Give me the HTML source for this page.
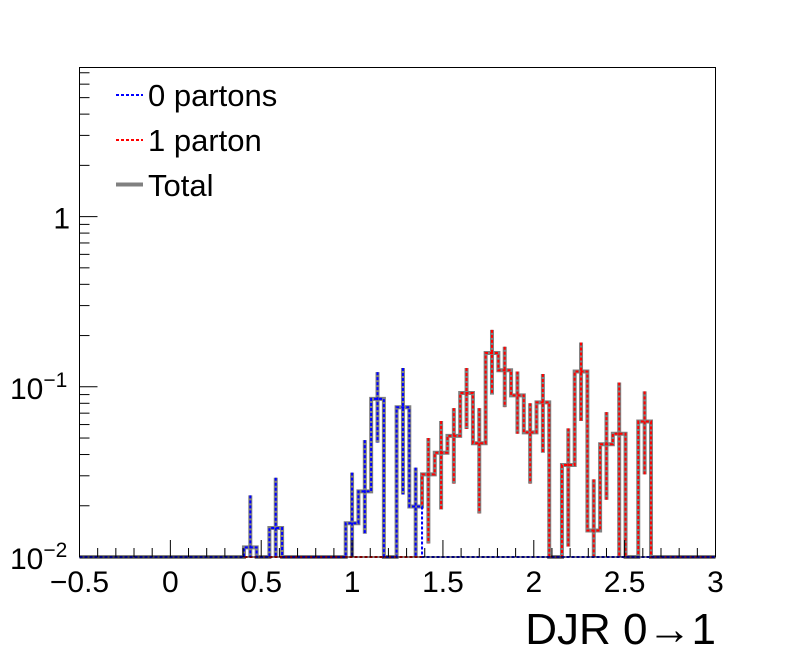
<!DOCTYPE html>
<html><head><meta charset="utf-8"><style>
html,body{margin:0;padding:0;background:#fff;}
svg{display:block;font-family:"Liberation Sans",sans-serif;}
</style></head><body>
<svg id="chart" width="796" height="672" viewBox="0 0 796 672" xmlns="http://www.w3.org/2000/svg">
<rect x="0" y="0" width="796" height="672" fill="#fff"/>
<g id="plot"></g>
<rect x="79.5" y="67.5" width="636" height="489.5" fill="none" stroke="#000" stroke-width="1"/>
<g id="axes"></g>
<text x="716" y="644" font-size="44" text-anchor="end">DJR 0→1</text>
<g>
  <g>
    <line x1="116" y1="95" x2="143" y2="95" stroke="#0000ff" stroke-width="2" stroke-dasharray="3,2"/>
    <text x="148" y="106" font-size="31">0 partons</text>
  </g>
  <g>
    <line x1="116" y1="140" x2="143" y2="140" stroke="#ff0000" stroke-width="2" stroke-dasharray="3,2"/>
    <text x="148" y="151" font-size="31">1 parton</text>
  </g>
  <g>
    <line x1="116" y1="184.5" x2="143" y2="184.5" stroke="#808080" stroke-width="4"/>
    <text x="148" y="196" font-size="31">Total</text>
  </g>
</g>
</svg>
<script>
// Data (bins of width 0.07 starting at x=0.405)
const binStart = 0.405;
const binWidth = 0.07;
const blueVals = [0.0114,0,0.0148,0,0,0,0,0,0.0158,0.0243,0.0849,0,0.0758,0.0198];
const blueErrUp = [0.023,0,0.0292,0,0,0,0,0,0.0313,0.0486,0.122,0,0.129,0.0335];
const blueErrLo = [0.005,0,0.005,0,0,0,0,0,0.005,0.0137,0.047,0,0.0233,0.005];
const redVals = [0,0,0,0,0,0,0,0,0,0,0,0,0,0,0.0306,0.041,0.0515,0.092,0.0466,0.158,0.125,0.089,0.054,0.081,0,0.0347,0.123,0.0143,0.046,0.053,0,0.0625];
const redErrUp = [0,0,0,0,0,0,0,0,0,0,0,0,0,0,0.05,0.063,0.075,0.129,0.075,0.216,0.172,0.123,0.080,0.119,0,0.057,0.182,0.0286,0.071,0.106,0,0.094];
const redErrLo = [0,0,0,0,0,0,0,0,0,0,0,0,0,0,0.012,0.019,0.027,0.0565,0.018,0.09,0.076,0.053,0.027,0.041,0,0.0115,0.063,0.005,0.0217,0.005,0,0.0306];
const xTicks = [-0.5,0,0.5,1,1.5,2,2.5,3];
const xTickLabels = ["\u22120.5","0","0.5","1","1.5","2","2.5","3"];

const X0=79.5, X1=715.5, XMIN=-0.5, XMAX=3;
const YB=557, DEC=170.2, YMIN=0.01, YTOP=67.5;
function xs(v){return X0+(v-XMIN)/(XMAX-XMIN)*(X1-X0);}
function ys(v){ if(v<=YMIN) return YB; return YB-(Math.log10(v)-Math.log10(YMIN))*DEC; }

const NS="http://www.w3.org/2000/svg";
const plot=document.getElementById('plot');
const axes=document.getElementById('axes');
function mk(tag,attrs,parent){const e=document.createElementNS(NS,tag);for(const k in attrs)e.setAttribute(k,attrs[k]);parent.appendChild(e);return e;}

const nb=Math.max(blueVals.length,redVals.length);
function val(a,i){return i<a.length?a[i]:0;}
const totVals=[],totUp=[],totLo=[];
for(let i=0;i<nb;i++){
  const b=val(blueVals,i), r=val(redVals,i);
  totVals.push(b+r);
  const eu=Math.sqrt(Math.pow(val(blueErrUp,i)-b,2)*(b>0?1:0)+Math.pow(val(redErrUp,i)-r,2)*(r>0?1:0));
  const el=Math.sqrt(Math.pow(b-val(blueErrLo,i),2)*(b>0?1:0)+Math.pow(r-val(redErrLo,i),2)*(r>0?1:0));
  totUp.push(b+r+eu); totLo.push(Math.max(0,b+r-el));
}
function stepPath(vals){
  let d='M'+xs(XMIN)+','+YB+' L'+xs(binStart)+','+YB;
  for(let i=0;i<vals.length;i++){
    const xa=xs(binStart+i*binWidth), xb=xs(binStart+(i+1)*binWidth), y=ys(vals[i]);
    d+=' L'+xa+','+y+' L'+xb+','+y;
  }
  d+=' L'+xs(binStart+vals.length*binWidth)+','+YB+' L'+xs(XMAX)+','+YB;
  return d;
}
function drawHist(vals,up,lo,color,width,dash,name){
  const g=mk('g',{},plot);
  
  
  const p=mk('path',{d:stepPath(vals),fill:'none',stroke:color,'stroke-width':width,'stroke-dasharray':dash},g);
  
  
  for(let i=0;i<vals.length;i++){
    if(vals[i]<=0) continue;
    const xc=xs(binStart+(i+0.5)*binWidth);
    const l=mk('line',{x1:xc,x2:xc,y1:ys(up[i]),y2:ys(lo[i]),stroke:color,'stroke-width':width,'stroke-dasharray':dash},g);
    
    
  }
}
drawHist(totVals,totUp,totLo,'#808080',4,'none','total-histogram');
drawHist(redVals,redErrUp,redErrLo,'#ff0000',2,'3,2','one-parton-histogram');
drawHist(blueVals,blueErrUp,blueErrLo,'#0000ff',2,'3,2','zero-partons-histogram');

// x ticks
for(let v=-0.5;v<=3.0001;v+=0.1){
  const vv=Math.round(v*10)/10;
  const major=Math.abs(vv*2-Math.round(vv*2))<1e-6;
  const x=xs(vv);
  const t=mk('line',{x1:x,x2:x,y1:YB,y2:YB-(major?17:9),stroke:'#000','stroke-width':1},axes);
  
  
}
for(let i=0;i<xTicks.length;i++){
  const t=mk('text',{x:xs(xTicks[i]),y:592,'font-size':30,'text-anchor':'middle'},axes);
  t.textContent=xTickLabels[i];
  
  
}
// y ticks
for(let e=-2;e<=0;e++){
  for(let m=1;m<=9;m++){
    const v=m*Math.pow(10,e);
    const y=ys(v);
    if(y<YTOP) continue;
    const t=mk('line',{x1:X0,x2:X0+(m===1?18:10),y1:y,y2:y,stroke:'#000','stroke-width':1},axes);
    
    
  }
}
const yl1=mk('text',{x:70,y:ys(1)+12,'font-size':30,'text-anchor':'end'},axes);
yl1.textContent='1';


const yexps=[-1,-2];
for(const e of yexps){
  const t=mk('text',{x:10,y:ys(Math.pow(10,e))+12,'font-size':30},axes);
  
  
  t.textContent='10';
  const s=mk('tspan',{dy:-12,'font-size':21},t);
  s.textContent='\u2212'+Math.abs(e);
}
</script>
</body></html>
